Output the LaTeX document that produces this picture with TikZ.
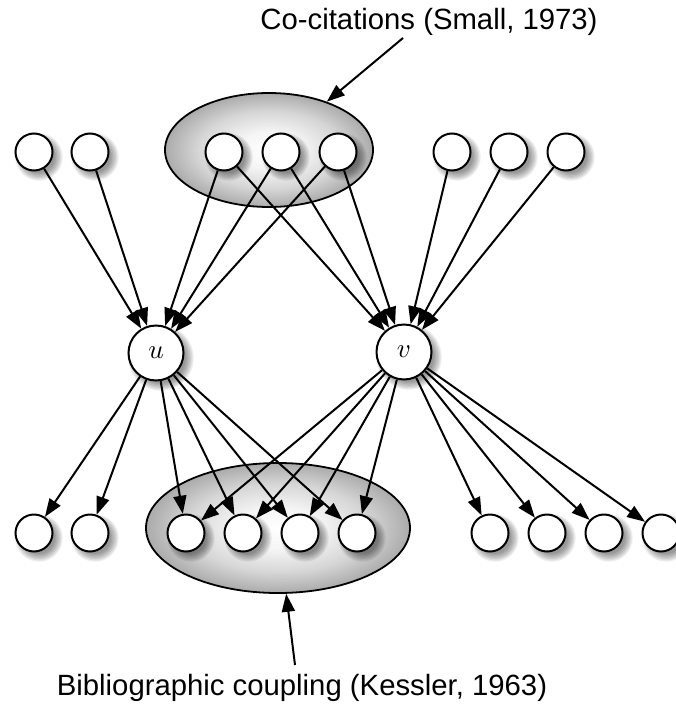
\documentclass[tikz,border=0pt]{standalone}
\usepackage{fontspec}
\setmainfont{Liberation Sans}
\usetikzlibrary{arrows.meta,shapes.geometric,calc}

\pgfdeclarelayer{groups}
\pgfdeclarelayer{shade}
\pgfsetlayers{groups,shade,main}

% light centre fading to grey at the rim
\pgfdeclareradialshading{groupshade}{\pgfpoint{0bp}{0bp}}{%
  color(0bp)=(white); color(8bp)=(black!4); color(17bp)=(black!16);
  color(25bp)=(black!33); color(50bp)=(black!33)}

\tikzset{
  paper/.style={circle, draw=black, line width=2pt, fill=white, minimum size=37pt, inner sep=0pt},
  hub/.style={paper, minimum size=55pt},
  group/.style={ellipse, draw=black, line width=1.8pt, inner sep=0pt, shading=groupshade},
  edge/.style={line width=2pt, -{Triangle[length=18pt,width=13pt]}},
  caption/.style={font=\fontsize{29.3}{33}\selectfont, inner sep=0pt},
  shadowring/.style={fill=black, opacity=0.07}
}

% large math-italic label for the two documents
\newcommand\hublabel[1]{\scalebox{2.7}{$#1$}}

% soft drop shadow below and right of a round node
\newcommand\softshadow[2]{%
  \foreach \k in {1,...,7}
    \fill[shadowring] ($(#1)+(5,5)$) circle ({#2+6-\k*1.3});%
}

\begin{document}
\begin{tikzpicture}[x=1pt, y=-1pt]
  \useasboundingbox (0,0) rectangle (676,709);

  % shaded groups
  \begin{pgfonlayer}{groups}
    \node[group, minimum width=208pt, minimum height=114pt] (cocit) at (269,150) {};
    \node[group, minimum width=264pt, minimum height=130pt] (coupl) at (278,528) {};
  \end{pgfonlayer}

  % citing papers (top row)
  \node[paper] (t1) at (34,152) {};
  \node[paper] (t2) at (90,152) {};
  \node[paper] (c1) at (224,152) {};
  \node[paper] (c2) at (281,152) {};
  \node[paper] (c3) at (338,152) {};
  \node[paper] (t6) at (452,152) {};
  \node[paper] (t7) at (509,152) {};
  \node[paper] (t8) at (566,152) {};

  % the two documents
  \node[hub] (u) at (156,353) {\hublabel{u}};
  \node[hub] (v) at (404,352) {\hublabel{v}};

  % cited papers (bottom row)
  \node[paper] (b1) at (34,533) {};
  \node[paper] (b2) at (90,533) {};
  \node[paper] (k1) at (186,533) {};
  \node[paper] (k2) at (243,533) {};
  \node[paper] (k3) at (300,533) {};
  \node[paper] (k4) at (357,533) {};
  \node[paper] (b7) at (490,533) {};
  \node[paper] (b8) at (547,533) {};
  \node[paper] (b9) at (604,533) {};
  \node[paper] (b10) at (661,533) {};

  % shadows
  \begin{pgfonlayer}{shade}
    \foreach \n in {t1,t2,c1,c2,c3,t6,t7,t8,b1,b2,k1,k2,k3,k4,b7,b8,b9,b10}
      \softshadow{\n}{19};
    \softshadow{u}{28}
    \softshadow{v}{28}
  \end{pgfonlayer}

  % citations into u and v
  \foreach \s in {t1,t2,c1,c2,c3} \draw[edge] (\s) -- (u);
  \foreach \s in {c1,c2,c3,t6,t7,t8} \draw[edge] (\s) -- (v);

  % references of u and v
  \foreach \t in {b1,b2,k1,k2,k3,k4} \draw[edge] (u) -- (\t);
  \foreach \t in {k1,k2,k3,k4,b7,b8,b9,b10} \draw[edge] (v) -- (\t);

  % captions
  \node[caption] (captop) at (429,22) {Co-citations (Small, 1973)};
  \node[caption] (capbot) at (302,688) {Bibliographic coupling (Kessler, 1963)};
  \coordinate (toptail) at (403,38);
  \coordinate (bottail) at (295,665);
  \draw[edge] (toptail) -- (cocit);
  \draw[edge] (bottail) -- (coupl);
\end{tikzpicture}
\end{document}
